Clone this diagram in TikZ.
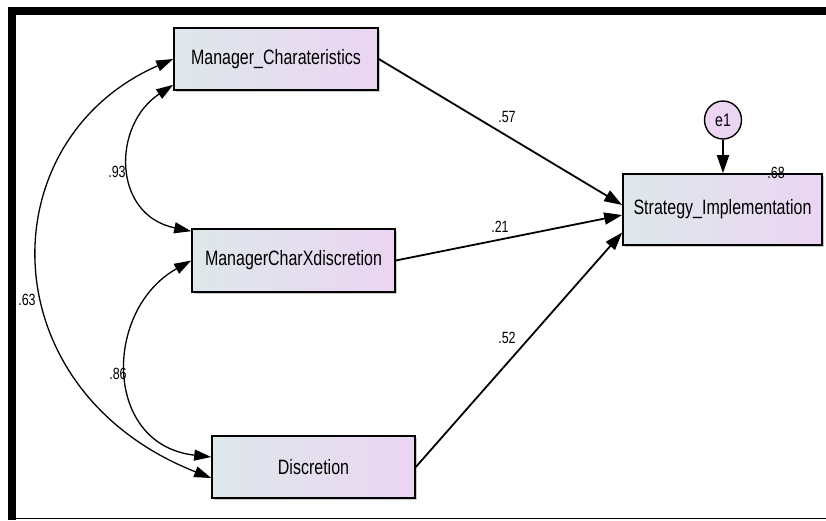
\documentclass[tikz,border=0pt]{standalone}
\usepackage{fontspec}
\setmainfont{Liberation Sans}
\usetikzlibrary{arrows.meta,shadows,shapes.geometric}
\definecolor{boxl}{RGB}{222,232,234}
\definecolor{boxr}{RGB}{235,213,242}
\newcommand\vsq[1]{\scalebox{1}[1.3]{#1}}
\begin{document}
\begin{tikzpicture}[x=1pt,y=-1pt,
  box/.style={draw=black, line width=1.6pt, left color=boxl, right color=boxr,
    inner sep=0pt, font=\fontsize{16}{18}\selectfont,
    drop shadow={shadow xshift=2pt, shadow yshift=-2pt, fill=black!35, opacity=0.6}},
  lat/.style={draw=black, line width=1.4pt, ellipse, fill=boxr, inner sep=0pt,
    minimum width=37pt, minimum height=38pt, font=\fontsize{14}{16}\selectfont},
  lbl/.style={inner sep=0pt, font=\fontsize{12.5}{14}\selectfont},
  pth/.style={line width=1.8pt, -{Triangle[length=18pt,width=12pt]}},
  dbl/.style={line width=1.3pt, {Triangle[length=17pt,width=11pt]}-{Triangle[length=17pt,width=11pt]}}]
\useasboundingbox (0,0) rectangle (826,520);
% frame
\fill[black] (8,7) rectangle (826,15);
\fill[black] (8,7) rectangle (16,520);
\draw[line width=1.2pt] (8,518.5) -- (826,518.5);
% nodes
\node[box, minimum width=204pt, minimum height=62pt] (MC) at (276,59) {\vsq{Manager\_Charateristics}};
\node[box, minimum width=203pt, minimum height=63pt] (MX) at (293.5,260.5) {\vsq{ManagerCharXdiscretion}};
\node[box, minimum width=203pt, minimum height=62pt] (D) at (313.5,467) {\vsq{Discretion}};
\node[box, minimum width=199pt, minimum height=71pt] (SI) at (722.5,209.5) {\vsq{Strategy\_Implementation}};
\node[lat] (e1) at (723,120) {\vsq{e1}};
% paths
\draw[pth] (MC.east) -- ([yshift=4.5pt]SI.west);
\draw[pth] (MX.east) -- ([yshift=-5.5pt]SI.west);
\draw[pth] (D.east) -- ([yshift=-23pt]SI.west);
\draw[pth] (e1.south) -- (e1.south |- SI.north);
% covariances
\draw[dbl] ([yshift=6pt]MC.south west) .. controls (112,125) and (112,215) .. ([yshift=-3pt]MX.north west);
\draw[dbl] (MX.west) .. controls (103,310) and (103,445) .. ([yshift=10pt]D.west);
\draw[dbl] (MC.west) .. controls (-12,140) and (-12,390) .. ([yshift=-11pt]D.west);
% labels
\node[lbl] (l57) at (507,117) {\vsq{.57}};
\node[lbl] (l21) at (500,227) {\vsq{.21}};
\node[lbl] (l52) at (507,338) {\vsq{.52}};
\node[lbl] (l93) at (117,172) {\vsq{.93}};
\node[lbl] (l86) at (118,374) {\vsq{.86}};
\node[lbl] (l63) at (27,300) {\vsq{.63}};
\node[lbl] (l68) at (776,173) {\vsq{.68}};
\end{tikzpicture}
\end{document}
